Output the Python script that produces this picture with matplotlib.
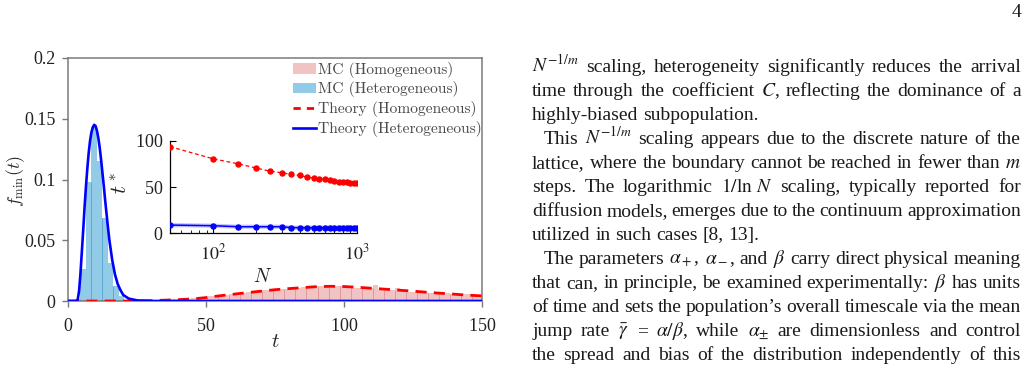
import numpy as np
import matplotlib
matplotlib.use("Agg")
import matplotlib.pyplot as plt
from matplotlib.patches import Patch
from matplotlib.lines import Line2D

plt.rcParams['font.family'] = 'cmr10'
plt.rcParams['mathtext.fontset'] = 'cm'
plt.rcParams['axes.unicode_minus'] = False
plt.rcParams['axes.formatter.use_mathtext'] = True

W, H = 1029, 373

# ---------------- data ----------------
# MC histograms (bin width 2, left edges in t)
het_bin_left = [2.4, 4.4, 6.4, 8.4, 10.4, 12.4, 14.4, 16.4, 18.4, 20.4]
het_counts = [0.002, 0.026, 0.098, 0.143, 0.115, 0.068, 0.031, 0.012, 0.004, 0.001]

hom_bin_left = list(np.arange(28.4, 149, 2.0))
hom_counts = [0.0002, 0.0003, 0.0005, 0.0008, 0.0013, 0.0014, 0.0017, 0.0019, 0.0023, 0.0028,
              0.0030, 0.0040, 0.0041, 0.0050, 0.0053, 0.0058, 0.0066, 0.0065, 0.0070, 0.0071,
              0.0086, 0.0088, 0.0093, 0.0092, 0.0100, 0.0102, 0.0104, 0.0105, 0.0116, 0.0121,
              0.0120, 0.0121, 0.0126, 0.0125, 0.0124, 0.0121, 0.0119, 0.0111, 0.0110, 0.0105,
              0.0104, 0.0133, 0.0093, 0.0088, 0.0087, 0.0105, 0.0090, 0.0072, 0.0071, 0.0071,
              0.0070, 0.0063, 0.0063, 0.0062, 0.0063, 0.0060, 0.0059, 0.0055, 0.0054, 0.0047,
              0.0046]

# theory curves
het_t = [0, 3, 3.5, 4, 4.5, 5, 5.5, 6, 6.5, 7, 7.5, 8, 8.5, 9, 9.5, 10, 10.5, 11, 11.5, 12,
         12.5, 13, 13.5, 14, 14.5, 15, 16, 17, 18, 19, 20, 22, 25, 30, 150]
het_f = [0, 0, 0.001, 0.008, 0.022, 0.040, 0.058, 0.077, 0.094, 0.109, 0.122, 0.132, 0.139,
         0.143, 0.145, 0.144, 0.140, 0.134, 0.126, 0.116, 0.105, 0.094, 0.082, 0.071, 0.060,
         0.050, 0.034, 0.022, 0.014, 0.009, 0.005, 0.002, 0.0005, 0, 0]

hom_t = [0, 20, 25, 30, 35, 40, 45, 50, 55, 60, 65, 70, 75, 80, 85, 90, 95, 100, 105, 110,
         115, 120, 125, 130, 135, 140, 145, 150]
hom_f = [0, 0, 0.0001, 0.0003, 0.0007, 0.0011, 0.0017, 0.0028, 0.0043, 0.0056, 0.0069, 0.0081,
         0.0093, 0.0102, 0.0110, 0.0118, 0.0121, 0.0119, 0.0113, 0.0105, 0.0097, 0.0089, 0.0081,
         0.0072, 0.0064, 0.0056, 0.0048, 0.0042]

# inset: t* vs N
N_vals = [50, 100, 150, 200, 250, 300, 350, 400, 450, 500, 550, 600, 650, 700, 750, 800,
          850, 900, 950, 1000]
tstar_hom = [93.6, 80.4, 75.0, 70.4, 67.0, 65.4, 63.6, 62.5, 60.7, 59.6, 58.6, 58.6, 57.1,
             56.0, 55.7, 55.4, 55.0, 54.6, 54.3, 54.3]
tstar_het = [8.9, 8.2, 7.1, 7.1, 7.1, 7.1, 6.1, 6.1, 6.1, 6.1, 6.1, 6.1, 6.1, 6.1, 6.1, 6.1,
             6.1, 6.1, 6.1, 6.1]

xticks_main = [0, 50, 100, 150]
yticks_main = [0, 0.05, 0.1, 0.15, 0.2]
yticklabels_main = ["0", "0.05", "0.1", "0.15", "0.2"]
legend_labels = ["MC (Homogeneous)", "MC (Heterogeneous)", "Theory (Homogeneous)",
                 "Theory (Heterogeneous)"]

c_pink, c_pink_edge = '#f2c3c3', '#dd9a9a'
c_sky, c_sky_edge = '#92cbe7', '#5fa8d3'
tick_font = 'Liberation Serif'

fig = plt.figure(figsize=(W / 100, H / 100), dpi=100)
ax = fig.add_axes([68 / W, 1 - 301 / H, 414 / W, 243 / H])

# histograms
ax.bar(het_bin_left, het_counts, width=2.0, align='edge', color=c_sky, lw=0, zorder=1)
ax.bar(hom_bin_left, hom_counts, width=2.0, align='edge', color=c_pink, lw=0, zorder=1)
# thin separators every other bin edge
for left, h, ec in [(het_bin_left, het_counts, c_sky_edge), (hom_bin_left, hom_counts, c_pink_edge)]:
    for i in range(1, len(left), 2):
        ax.vlines(left[i], 0, min(h[i - 1], h[i]), color=ec, lw=0.7, zorder=1.5)

ax.plot(hom_t, hom_f, color='#ff0000', lw=2.0, dashes=(4, 2.6), zorder=3)
ax.plot(het_t, het_f, color='#0000ff', lw=1.9, zorder=4)

ax.set_xlim(0, 150)
ax.set_ylim(0, 0.2)
ax.set_xticks(xticks_main)
ax.set_yticks(yticks_main)
ax.set_yticklabels(yticklabels_main)
for s in ax.spines.values():
    s.set_color('#7a7a7a')
    s.set_linewidth(1.1)
ax.tick_params(direction='out', length=4, width=1, color='#7a7a7a', labelcolor='#222222',
               labelsize=13)
ax.tick_params(axis='x', pad=8)
ax.tick_params(axis='y', pad=5)
for lbl in ax.get_xticklabels() + ax.get_yticklabels():
    lbl.set_fontfamily(tick_font)

fig.text(275 / W, 1 - 342 / H, r'$t$', fontsize=15, ha='center', va='center', color='#262626')
fig.text(15.5 / W, 1 - 181 / H, r'$f_{\min}(t)$', fontsize=13, rotation=90, ha='center',
         va='center', color='#262626')

handles = [Patch(facecolor=c_pink, edgecolor='none'),
           Patch(facecolor=c_sky, edgecolor='none'),
           Line2D([], [], color='#ff0000', lw=2.0, dashes=(2.6, 2.2)),
           Line2D([], [], color='#0000ff', lw=1.9)]
leg = ax.legend(handles, legend_labels, loc='upper left', bbox_to_anchor=(293 / W, 1 - 61.5 / H),
                bbox_transform=fig.transFigure, frameon=False, fontsize=11.2,
                handlelength=1.5, handletextpad=0.12, labelspacing=0.25, borderpad=0,
                borderaxespad=0, labelcolor='#4a4a4a')
leg.set_zorder(10)

# inset
ax2 = fig.add_axes([170 / W, 1 - 233.3 / H, 186.7 / W, 92.6 / H])
ax2.patch.set_alpha(0)
ax2.plot(N_vals, tstar_het, color='#7b7bff', lw=3, alpha=0.45, zorder=2, solid_capstyle='butt')
ax2.plot(N_vals, tstar_het, color='#0000ff', lw=1.1, marker='o', ms=3.6, zorder=3)
ax2.plot(N_vals, tstar_hom, color='#ff0000', lw=0.9, dashes=(3, 2.2), marker='o', ms=3.6,
         zorder=3)
ax2.set_xscale('log')
ax2.set_xlim(50, 1000)
ax2.set_ylim(0, 100)
ax2.set_yticks([0, 50, 100])
ax2.set_xticks([100, 1000])
ax2.set_xticklabels([r'$10^2$', r'$10^3$'])
ax2.spines['top'].set_visible(False)
ax2.spines['right'].set_visible(False)
for s in ('left', 'bottom'):
    ax2.spines[s].set_linewidth(0.9)
ax2.tick_params(which='both', direction='in', labelsize=13, labelcolor='#222222')
ax2.tick_params(which='major', length=4)
ax2.tick_params(which='minor', length=2.5)
ax2.tick_params(axis='x', pad=7)
ax2.tick_params(axis='y', pad=5)
for lbl in ax2.get_xticklabels() + ax2.get_yticklabels():
    lbl.set_fontfamily(tick_font)
    lbl.set_math_fontfamily('stix')
fig.text(121 / W, 1 - 183 / H, r'$t^*$', fontsize=16, rotation=90, ha='center', va='center',
         color='#262626')
fig.text(263 / W, 1 - 277 / H, r'$N$', fontsize=14, ha='center', va='center', color='#262626')

# ---------------- right-hand page text ----------------
body = [
    (r"$N^{-1/m}$ scaling, heterogeneity significantly reduces the arrival", 0, True),
    (r"time through the coefficient $C$, reflecting the dominance of a", 0, True),
    (r"highly-biased subpopulation.", 0, False),
    (r"This $N^{-1/m}$ scaling appears due to the discrete nature of the", 1, True),
    (r"lattice, where the boundary cannot be reached in fewer than $m$", 0, True),
    (r"steps. The logarithmic $1/\ln\,N$ scaling, typically reported for", 0, True),
    (r"diffusion models, emerges due to the continuum approximation", 0, True),
    (r"utilized in such cases [8, 13].", 0, False),
    (r"The parameters $\alpha_+$, $\alpha_-$, and $\beta$ carry direct physical meaning", 1, True),
    (r"that can, in principle, be examined experimentally: $\beta$ has units", 0, True),
    (r"of time and sets the population’s overall timescale via the mean", 0, True),
    (r"jump rate $\bar{\gamma}$ = $\alpha/\beta$, while $\alpha_{\pm}$ are dimensionless and control", 0, True),
    (r"the spread and bias of the distribution independently of this", 0, True),
]
line_y0, line_dy = 72, 24.0
x_left, x_right, indent = 532, 1021, 12
fs_body = 14
renderer = fig.canvas.get_renderer()

fig.text(1021 / W, 1 - 17 / H, "4", fontsize=fs_body, family='Liberation Serif',
         ha='right', va='baseline', color='#1a1a1a')

for k, (line, ind, just) in enumerate(body):
    yb = 1 - (line_y0 + k * line_dy) / H
    words = line.split(' ')
    arts = [fig.text(0, yb, w, fontsize=fs_body, family='Liberation Serif',
                     math_fontfamily='stix', va='baseline', ha='left', color='#1a1a1a')
            for w in words]
    widths = [a.get_window_extent(renderer=renderer).width for a in arts]
    x0 = x_left + indent * ind
    if just and len(words) > 1:
        gap = (x_right - x0 - sum(widths)) / (len(words) - 1)
    else:
        gap = fs_body * 100 / 72 * 0.25
    x = x0
    for a, wdt in zip(arts, widths):
        a.set_x(x / W)
        x += wdt + gap

fig.savefig('out.png', dpi=100)
